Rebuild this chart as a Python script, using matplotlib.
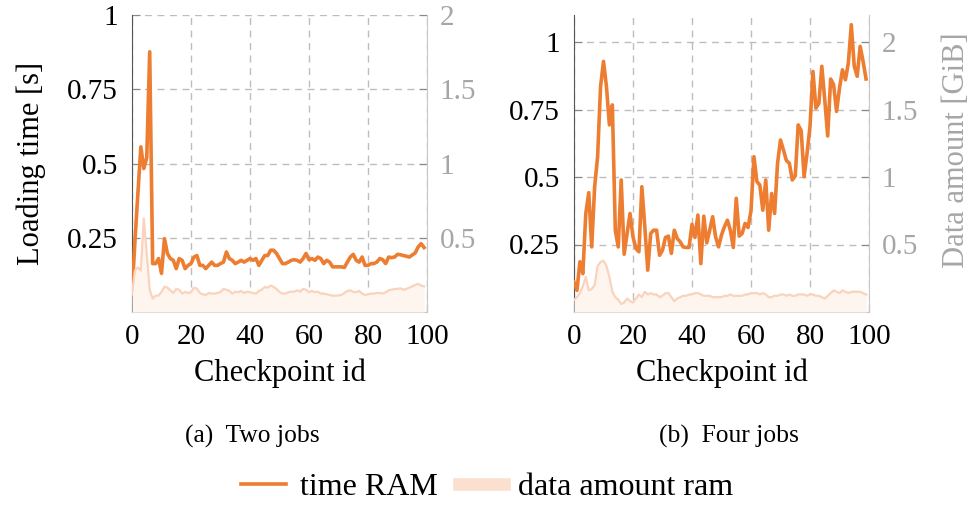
import numpy as np
import matplotlib
matplotlib.use("Agg")
import matplotlib.pyplot as plt
from matplotlib.lines import Line2D

plt.rcParams['font.family'] = ['Liberation Serif', 'DejaVu Serif']

# ── data ──────────────────────────────────────────────────────────────
checkpoints = np.arange(100)

time_two = [
    0.062, 0.24, 0.40, 0.556, 0.483, 0.52, 0.876, 0.163, 0.163, 0.18,
    0.13, 0.247, 0.197, 0.18, 0.174, 0.146, 0.18, 0.174, 0.146, 0.157,
    0.163, 0.185, 0.19, 0.157, 0.157, 0.146, 0.157, 0.168, 0.157, 0.157,
    0.163, 0.168, 0.202, 0.18, 0.174, 0.163, 0.168, 0.174, 0.168, 0.174,
    0.18, 0.174, 0.18, 0.157, 0.174, 0.19, 0.19, 0.208, 0.208, 0.197,
    0.18, 0.163, 0.163, 0.168, 0.174, 0.176, 0.174, 0.168, 0.18, 0.197,
    0.176, 0.18, 0.174, 0.185, 0.18, 0.163, 0.174, 0.168, 0.152, 0.152,
    0.152, 0.152, 0.15, 0.168, 0.185, 0.194, 0.174, 0.168, 0.185, 0.157,
    0.157, 0.163, 0.163, 0.168, 0.18, 0.176, 0.163, 0.185, 0.183, 0.185,
    0.194, 0.193, 0.19, 0.188, 0.185, 0.192, 0.199, 0.219, 0.23, 0.217,
]
data_two = [
    0.12, 0.28, 0.30, 0.28, 0.63, 0.39, 0.15, 0.09, 0.11, 0.11,
    0.135, 0.17, 0.165, 0.146, 0.128, 0.155, 0.15, 0.124, 0.135, 0.128,
    0.133, 0.164, 0.157, 0.128, 0.119, 0.115, 0.128, 0.124, 0.124, 0.128,
    0.135, 0.155, 0.15, 0.142, 0.124, 0.137, 0.133, 0.142, 0.128, 0.137,
    0.133, 0.128, 0.124, 0.142, 0.15, 0.169, 0.164, 0.178, 0.169, 0.155,
    0.135, 0.124, 0.124, 0.133, 0.137, 0.137, 0.146, 0.137, 0.155, 0.15,
    0.133, 0.142, 0.133, 0.137, 0.124, 0.124, 0.119, 0.115, 0.11, 0.11,
    0.112, 0.115, 0.128, 0.142, 0.146, 0.135, 0.133, 0.142, 0.124, 0.115,
    0.119, 0.124, 0.124, 0.128, 0.128, 0.124, 0.133, 0.146, 0.15, 0.155,
    0.155, 0.16, 0.15, 0.155, 0.164, 0.173, 0.182, 0.19, 0.178, 0.173,
]
time_four = [
    0.111, 0.08, 0.186, 0.142, 0.365, 0.442, 0.241, 0.464, 0.575, 0.835,
    0.928, 0.835, 0.693, 0.767, 0.303, 0.241, 0.489, 0.214, 0.291, 0.365,
    0.278, 0.235, 0.223, 0.464, 0.316, 0.155, 0.291, 0.303, 0.303, 0.21,
    0.229, 0.276, 0.281, 0.217, 0.303, 0.272, 0.26, 0.241, 0.239, 0.239,
    0.325, 0.276, 0.359, 0.179, 0.355, 0.256, 0.303, 0.353, 0.278, 0.241,
    0.285, 0.316, 0.34, 0.303, 0.239, 0.421, 0.281, 0.291, 0.328, 0.313,
    0.375, 0.575, 0.483, 0.47, 0.377, 0.489, 0.303, 0.439, 0.365, 0.551,
    0.637, 0.60, 0.561, 0.551, 0.489, 0.504, 0.693, 0.672, 0.501, 0.588,
    0.687, 0.891, 0.755, 0.773, 0.91, 0.786, 0.652, 0.863, 0.842, 0.743,
    0.829, 0.897, 0.86, 0.922, 1.064, 0.91, 0.873, 0.984, 0.928, 0.863,
]
data_four = [
    0.09, 0.11, 0.14, 0.19, 0.26, 0.16, 0.17, 0.20, 0.34, 0.37,
    0.38, 0.34, 0.26, 0.15, 0.11, 0.09, 0.06, 0.07, 0.10, 0.08,
    0.07, 0.10, 0.13, 0.11, 0.15, 0.13, 0.14, 0.13, 0.13, 0.11,
    0.12, 0.14, 0.14, 0.11, 0.08, 0.10, 0.11, 0.12, 0.12, 0.13,
    0.13, 0.14, 0.14, 0.13, 0.12, 0.12, 0.12, 0.11, 0.11, 0.11,
    0.11, 0.12, 0.12, 0.13, 0.12, 0.12, 0.12, 0.12, 0.13, 0.13,
    0.14, 0.14, 0.14, 0.13, 0.14, 0.13, 0.11, 0.11, 0.12, 0.12,
    0.13, 0.13, 0.12, 0.13, 0.12, 0.12, 0.13, 0.13, 0.13, 0.12,
    0.13, 0.13, 0.12, 0.12, 0.11, 0.10, 0.12, 0.14, 0.16, 0.15,
    0.14, 0.16, 0.15, 0.14, 0.15, 0.15, 0.15, 0.15, 0.14, 0.13,
]

x_ticks = [0, 20, 40, 60, 80, 100]
time_ticks = [0.25, 0.5, 0.75, 1]
time_ticklabels = ['0.25', '0.5', '0.75', '1']
data_ticks = [0.5, 1, 1.5, 2]
data_ticklabels = ['0.5', '1', '1.5', '2']

# ── styles ────────────────────────────────────────────────────────────
ORANGE = '#ed7d31'
PEACH = '#f9d3bc'
FILL = '#fef5ee'
GRAY = '#a6a6a6'
GRID = '#bdbdbd'

fig = plt.figure(figsize=(9.77, 5.05), dpi=100)

panels = [
    (132, time_two, data_two, 1.0, 2.0),
    (574, time_four, data_four, 1.1, 2.2),
]

axes = []
for left_px, t_vals, d_vals, tmax, dmax in panels:
    ax = fig.add_axes([left_px / 977, 193 / 505, 295 / 977, 297 / 505])
    ax2 = ax.twinx()

    ax.plot(checkpoints, t_vals, color=ORANGE, lw=2.6, zorder=3)
    ax2.fill_between(checkpoints, d_vals, 0, color=FILL, lw=0, zorder=1)
    ax2.plot(checkpoints, d_vals, color=PEACH, lw=1.6, zorder=2)

    ax.set_xlim(0, 100)
    ax.set_ylim(0, tmax)
    ax2.set_ylim(0, dmax)

    ax.set_xticks(x_ticks)
    ax.set_yticks(time_ticks)
    ax.set_yticklabels(time_ticklabels)
    ax2.set_yticks(data_ticks)
    ax2.set_yticklabels(data_ticklabels)

    ax.grid(True, color=GRID, ls=(0, (5, 4)), lw=1.0)
    ax.set_axisbelow(True)

    for s in ('top', 'right'):
        ax.spines[s].set_visible(False)
    ax.spines['left'].set_color('#555555')
    ax.spines['bottom'].set_color('#c8c8c8')
    for s in ('top', 'left', 'bottom'):
        ax2.spines[s].set_visible(False)
    ax2.spines['right'].set_color('#c8c8c8')

    ax.tick_params(axis='x', direction='in', length=6, color='#888888',
                   labelsize=21, pad=9)
    ax.tick_params(axis='y', direction='in', length=6, color='#888888',
                   labelsize=21, pad=10, labelcolor='black')
    ax2.tick_params(axis='y', direction='in', length=6, color='#888888',
                    labelsize=21, pad=9, labelcolor=GRAY)

    ax.set_xlabel('Checkpoint id', fontsize=22, labelpad=6)
    axes.append((ax, ax2))

axes[0][0].set_ylabel('Loading time [s]', fontsize=22)
axes[0][0].yaxis.set_label_coords(-0.293, 0.5)
axes[1][1].set_ylabel('Data amount [GiB]', fontsize=22, color=GRAY)
axes[1][1].yaxis.set_label_coords(1.247, 0.545)

fig.text(252 / 977, 1 - 436 / 505, '(a)  Two jobs', fontsize=18.4,
         ha='center', va='center')
fig.text(729 / 977, 1 - 436 / 505, '(b)  Four jobs', fontsize=18.4,
         ha='center', va='center')

handles = [
    Line2D([0], [0], color=ORANGE, lw=2.6, label='time RAM'),
    Line2D([0], [0], color='#fbe0cf', lw=9, label='data amount ram'),
]
fig.legend(handles=handles, loc='center', bbox_to_anchor=(487 / 977, 1 - 487 / 505),
           ncol=2, frameon=False, fontsize=23, handlelength=1.4,
           columnspacing=0.66, handletextpad=0.44)

fig.savefig('out.png', dpi=100)
